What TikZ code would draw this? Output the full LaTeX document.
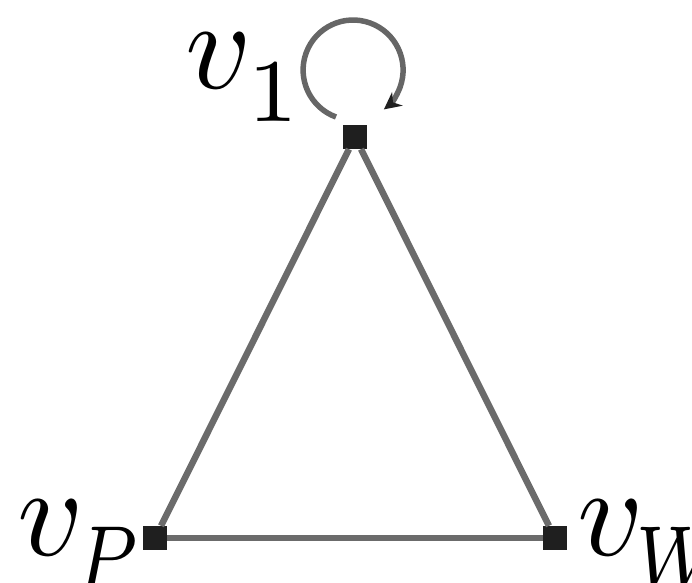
\documentclass[tikz,border=0pt]{standalone}
\usetikzlibrary{arrows.meta}
\newcommand{\lowsub}[1]{\raisebox{-1.1pt}{$\scriptstyle #1$}}
\newcommand{\narrowsub}[1]{\kern-0.3pt\raisebox{-1.1pt}{\scalebox{0.8}[1]{$\scriptstyle #1$}}}
\begin{document}
\begin{tikzpicture}[x=1pt,y=1pt,
  vtx/.style={fill=black!88, minimum size=24pt, inner sep=0pt, draw=none},
  link/.style={draw=black!58, line width=6.5pt},
  loopline/.style={draw=black!60, line width=5.5pt},
  lbl/.style={anchor=base west, inner sep=0pt, scale=12.8}]
\useasboundingbox (0,0) rectangle (692,582);
\node[vtx] (t) at (355,445) {};
\node[vtx] (l) at (155,44) {};
\node[vtx] (r) at (555,44) {};
\draw[link] (t) -- (l);
\draw[link] (t) -- (r);
\draw[link] (l) -- (r);
\draw[loopline, -{Stealth[length=17pt,width=17pt,color=black!88]}] ([shift={(-19,20)}]t.center) arc[start angle=250, end angle=-52, radius=50];
\node[lbl] (l1) at (183,494) {$v_{\lowsub{1}}$};
\node[lbl] (lp) at (15,27) {$v_{\narrowsub{P}}$};
\node[lbl] (lw) at (575,27) {$v_{\narrowsub{W}}$};
\end{tikzpicture}
\end{document}
